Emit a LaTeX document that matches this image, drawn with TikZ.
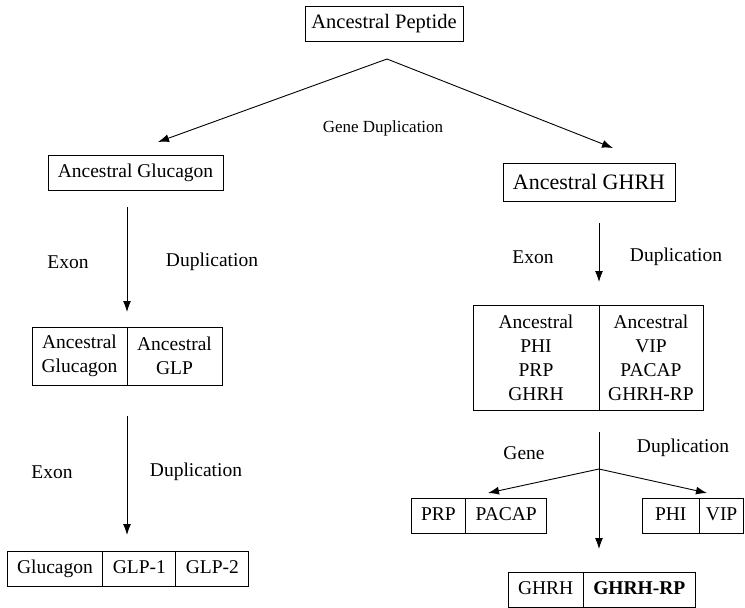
\documentclass[tikz,border=0pt]{standalone}
\usepackage{fontspec}
\setmainfont{Liberation Serif}
\usetikzlibrary{positioning, arrows.meta}

\begin{document}
\begin{tikzpicture}[
  x=1pt, y=-1pt,
  every node/.style={font=\fontsize{19.5}{24}\selectfont},
  box/.style={draw, line width=1pt, rectangle, align=center, inner sep=0pt, outer sep=0pt, minimum height=35pt},
  cell/.style={box, inner xsep=10pt, text height=14pt, text depth=4pt},
  arrow/.style={-{Latex[length=11pt, width=8pt]}, line width=0.9pt}
]
\useasboundingbox (0,0) rectangle (745,608);

% Nodes
\node[box, minimum width=158pt, font=\fontsize{20.5}{24}\selectfont] (peptide) at (384,23.5) {Ancestral Peptide};
\node[box, minimum width=175pt] (agluc) at (135.5,172.5) {Ancestral Glucagon};
\node[box, minimum width=172pt, minimum height=38pt, font=\fontsize{22}{26}\selectfont] (aghrh) at (589,182) {Ancestral GHRH};

% Glucagon side
\node[box, minimum width=95pt, minimum height=58pt, anchor=west] (aglucb) at (32,356) {Ancestral\\Glucagon};
\node[box, minimum width=95pt, minimum height=58pt, right=0pt of aglucb] (aglp) {Ancestral\\GLP};
\node[cell, anchor=west] (gluc) at (7,568.5) {Glucagon};
\node[cell, right=0pt of gluc] (glp1) {GLP-1};
\node[cell, right=0pt of glp1] (glp2) {GLP-2};

% GHRH side
\node[box, minimum width=126pt, minimum height=105pt, anchor=west] (anc1) at (473,357.5) {Ancestral\\PHI\\PRP\\GHRH};
\node[box, minimum width=104pt, minimum height=105pt, right=0pt of anc1] (anc2) {Ancestral\\VIP\\PACAP\\GHRH-RP};
\node[cell, anchor=west] (prp) at (411,515.5) {PRP};
\node[cell, right=0pt of prp] (pacap) {PACAP};
\node[cell, anchor=west, inner xsep=13pt] (phi) at (642,515.5) {PHI};
\node[cell, right=0pt of phi, inner xsep=6.5pt] (vip) {VIP};
\node[cell, anchor=west] (ghrh) at (508,589.5) {GHRH};
\node[cell, right=0pt of ghrh] (ghrhrp) {\textbf{GHRH-RP}};

% Labels
\node[font=\fontsize{17}{20}\selectfont] (genedup) at (383,128) {Gene Duplication};
\node (exon1) at (68,262) {Exon};
\node (dup1) at (212,262) {Duplication};
\node (exon2) at (52,472) {Exon};
\node (dup2) at (196,472) {Duplication};
\node (exon3) at (533,257) {Exon};
\node (dup3) at (676,257) {Duplication};
\node (gene4) at (524,453) {Gene};
\node (dup4) at (683,448) {Duplication};

% Branch points
\coordinate (split) at (387,59);
\coordinate (lefttip) at (158,142);
\coordinate (righttip) at (613,148);
\coordinate (fork) at (599,469);
\coordinate (prptip) at (488,493);
\coordinate (viptip) at (707,493);

% Lines
\draw[arrow] (split) -- (lefttip);
\draw[arrow] (split) -- (righttip);
\draw[arrow, shorten <=17pt, shorten >=15pt] (agluc.south -| aglp.west) -- (aglp.north west);
\draw[arrow, shorten <=31pt, shorten >=16pt] (aglp.south west) -- (aglp.south west |- glp1.north);
\draw[arrow, shorten <=22pt, shorten >=23pt] (aghrh.south -| anc2.west) -- (anc2.north west);
\draw[arrow, shorten <=22pt, shorten >=23pt] (anc2.south west) -- (anc2.south west |- ghrhrp.north);
\draw[arrow] (fork) -- (prptip);
\draw[arrow] (fork) -- (viptip);

\end{tikzpicture}
\end{document}
